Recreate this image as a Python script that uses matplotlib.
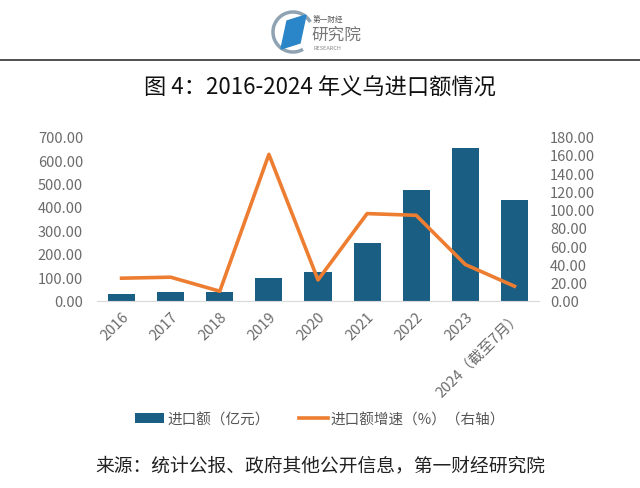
import matplotlib
matplotlib.use("Agg")
import matplotlib.pyplot as plt
from matplotlib.patches import Polygon, Arc

plt.rcParams["font.family"] = ["Noto Sans CJK SC", "DejaVu Sans"]

# data
years = ["2016", "2017", "2018", "2019", "2020", "2021", "2022", "2023", "2024（截至7月）"]
import_value = [28, 36, 37, 98, 122, 245, 471, 653, 430]          # 亿元
import_growth = [24.7, 25.8, 10.4, 160.6, 22.8, 95.6, 93.7, 39.7, 15.9]  # %
left_ticks = [0, 100, 200, 300, 400, 500, 600, 700]
right_ticks = [0, 20, 40, 60, 80, 100, 120, 140, 160, 180]

BAR_COLOR = "#1a5e84"
LINE_COLOR = "#ed7d31"
TICK_COLOR = "#6b6b6b"

W, H = 640, 489
fig = plt.figure(figsize=(W / 100, H / 100), dpi=100)


def fx(px):
    return px / W


def fy(py):
    return 1 - py / H


# header logo
logo = fig.add_axes([0, 0, 1, 1], zorder=0)
logo.set_xlim(0, W)
logo.set_ylim(H, 0)
logo.axis("off")
logo.add_patch(Arc((293, 33), 40, 40, theta1=60, theta2=330, color="#8fa3b3", lw=2.5))
logo.add_patch(Polygon([(287, 22), (306, 16), (300, 44), (281, 50)], closed=True, color="#2a86c8"))
logo.text(313, 20, "第一财经", fontsize=5.5, color="#555555", va="center", ha="left")
logo.text(311, 35, "研究院", fontsize=12, color="#777777", va="center", ha="left")
logo.text(313, 48, "RESEARCH", fontsize=4, color="#888888", va="center", ha="left")
logo.plot([0, W], [61, 61], color="#333333", lw=1.2)

fig.text(0.5, fy(88), "图 4：2016-2024 年义乌进口额情况", ha="center", va="center",
         fontsize=16, color="#111111")

ax = fig.add_axes([fx(97), fy(301.7), fx(539 - 97), (301.7 - 137.7) / H], zorder=1)
x = list(range(len(years)))
bars = ax.bar(x, import_value, width=0.55, color=BAR_COLOR, zorder=2)
ax.set_ylim(0, 700)
ax.set_xlim(-0.5, len(years) - 0.5)
ax.set_yticks(left_ticks)
ax.set_yticklabels([f"{v:.2f}" for v in left_ticks])
ax.set_xticks(x)
ax.set_xticklabels(years, rotation=45, ha="right", va="top", rotation_mode="anchor")
ax.tick_params(axis="both", length=0, colors=TICK_COLOR, labelsize=10.5)
ax.tick_params(axis="y", pad=10)
ax.tick_params(axis="x", pad=6)
for s in ["top", "right", "left"]:
    ax.spines[s].set_visible(False)
ax.spines["bottom"].set_color("#d9d9d9")
ax.patch.set_alpha(0)

ax2 = ax.twinx()
line, = ax2.plot(x, import_growth, color=LINE_COLOR, lw=2.6, zorder=3)
ax2.set_ylim(0, 180)
ax2.set_yticks(right_ticks)
ax2.set_yticklabels([f"{v:.2f}" for v in right_ticks])
ax2.tick_params(axis="y", length=0, colors=TICK_COLOR, labelsize=10.5, pad=8)
for s in ["top", "right", "left", "bottom"]:
    ax2.spines[s].set_visible(False)

fig.legend(handles=[bars, line], labels=["进口额（亿元）", "进口额增速（%）（右轴）"],
           loc="center", bbox_to_anchor=(0.5, fy(420)), ncol=2, frameon=False,
           fontsize=10.5, labelcolor="#555555", handlelength=2.0, handleheight=0.6,
           columnspacing=2.0, handletextpad=0.2)

fig.text(0.5, fy(466), "来源：统计公报、政府其他公开信息，第一财经研究院", ha="center", va="center",
         fontsize=13.5, color="#222222")

fig.savefig("out.png", dpi=100)
